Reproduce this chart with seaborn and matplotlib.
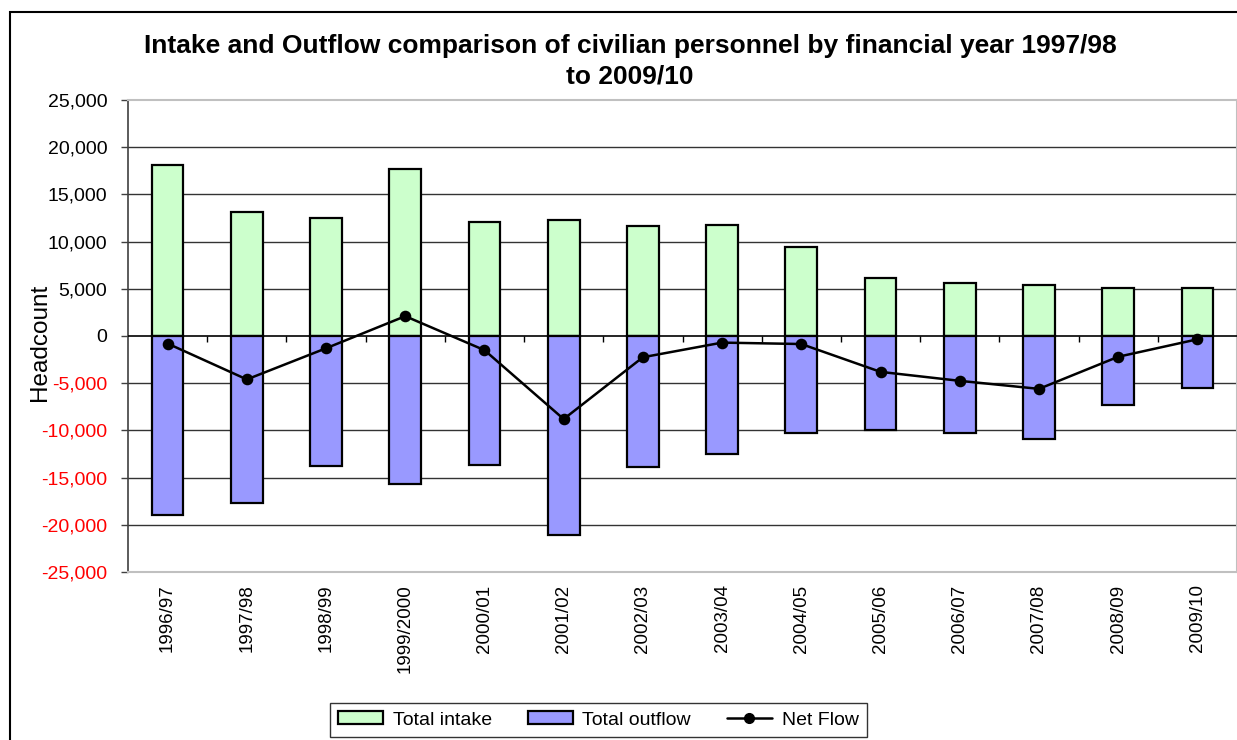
import matplotlib
matplotlib.use("Agg")
import matplotlib.pyplot as plt
import seaborn as sns
import pandas as pd
from matplotlib.patches import Patch, Rectangle
from matplotlib.lines import Line2D
from matplotlib.ticker import FuncFormatter

years = ["1996/97", "1997/98", "1998/99", "1999/2000", "2000/01", "2001/02", "2002/03",
         "2003/04", "2004/05", "2005/06", "2006/07", "2007/08", "2008/09", "2009/10"]
total_intake = [18100, 13100, 12500, 17700, 12100, 12250, 11650, 11750, 9400, 6150, 5600, 5350, 5050, 5100]
total_outflow = [-19000, -17700, -13750, -15700, -13650, -21050, -13900, -12500, -10250, -9950, -10300, -10950, -7300, -5550]
net_flow = [-800, -4600, -1300, 2100, -1500, -8800, -2250, -700, -850, -3800, -4750, -5600, -2200, -350]

title = "Intake and Outflow comparison of civilian personnel by financial year 1997/98\nto 2009/10"

df = pd.DataFrame({"year": years, "intake": total_intake, "outflow": total_outflow, "net": net_flow})

sns.set_theme(style="white")
plt.rcParams["font.family"] = ["Liberation Sans", "DejaVu Sans"]
plt.rcParams["text.color"] = "black"
plt.rcParams["axes.labelcolor"] = "black"
plt.rcParams["xtick.color"] = "black"
plt.rcParams["ytick.color"] = "black"

W, H = 1237, 740
fig = plt.figure(figsize=(W / 100, H / 100), dpi=100)
ax = fig.add_axes([128 / W, 1 - 572 / H, (1237 - 128) / W, (572 - 100) / H])

sns.barplot(data=df, x="year", y="intake", color="#CCFFCC", saturation=1, width=0.4,
            edgecolor="black", linewidth=1.6, ax=ax, zorder=3)
sns.barplot(data=df, x="year", y="outflow", color="#9999FF", saturation=1, width=0.4,
            edgecolor="black", linewidth=1.6, ax=ax, zorder=3)
sns.pointplot(data=df, x="year", y="net", color="black", markers="o", markersize=7,
              linewidth=1.8, ax=ax, zorder=5)

ax.set_xlim(-0.5, len(years) - 0.5)
ax.set_ylim(-25000, 25000)
ax.set_yticks(range(-25000, 25001, 5000))
ax.yaxis.set_major_formatter(FuncFormatter(lambda v, p: f"{int(v):,}"))
ax.tick_params(axis="y", labelsize=14, length=5, width=1, color="#404040", labelcolor="black",
               left=True, pad=10)
ax.tick_params(axis="x", labelsize=13.5, length=0, pad=9, rotation=90, labelcolor="black")
ax.set_xlabel("")
ax.set_ylabel("")

for v in range(-20000, 20001, 5000):
    if v != 0:
        ax.axhline(v, color="#333333", lw=1.0, zorder=1)
ax.axhline(0, color="black", lw=1.2, zorder=4)
ax.vlines([i + 0.5 for i in range(len(years) - 1)], -650, 0, color="black", lw=1, zorder=4)

for s in ["top", "bottom", "right"]:
    ax.spines[s].set_color("#C0C0C0")
    ax.spines[s].set_linewidth(1.5)
ax.spines["left"].set_color("#404040")
ax.spines["left"].set_linewidth(1.2)

fig.canvas.draw()
for lbl in ax.get_yticklabels():
    t = lbl.get_text()
    lbl.set_color("red" if t.startswith("-") or t.startswith("\u2212") else "black")

fig.text(630 / W, 1 - 61 / H, title, ha="center", va="center", fontsize=19,
         fontweight="bold", linespacing=1.32, color="black")
fig.text(40 / W, 1 - 342 / H, "Headcount", rotation=90, ha="center", va="center",
         fontsize=17.5, color="black")

handles = [Patch(facecolor="#CCFFCC", edgecolor="black", linewidth=1.6, label="Total intake"),
           Patch(facecolor="#9999FF", edgecolor="black", linewidth=1.6, label="Total outflow"),
           Line2D([0], [0], color="black", marker="o", markersize=7, lw=1.8, label="Net Flow")]
leg = fig.legend(handles=handles, loc="center", bbox_to_anchor=(598.5 / W, 1 - 720 / H), ncol=3,
                 fontsize=14, frameon=True, fancybox=False, edgecolor="black", handlelength=2.3,
                 handleheight=0.6, handletextpad=0.5, columnspacing=1.85, borderpad=0.45)
leg.get_frame().set_linewidth(1.0)
for t in leg.get_texts():
    t.set_color("black")

fig.patches.append(Rectangle((10 / W, -0.1), 1.2, (1 - 12 / H) + 0.1, transform=fig.transFigure,
                             fill=False, edgecolor="black", linewidth=1.5))

fig.savefig("out.png", dpi=100)
